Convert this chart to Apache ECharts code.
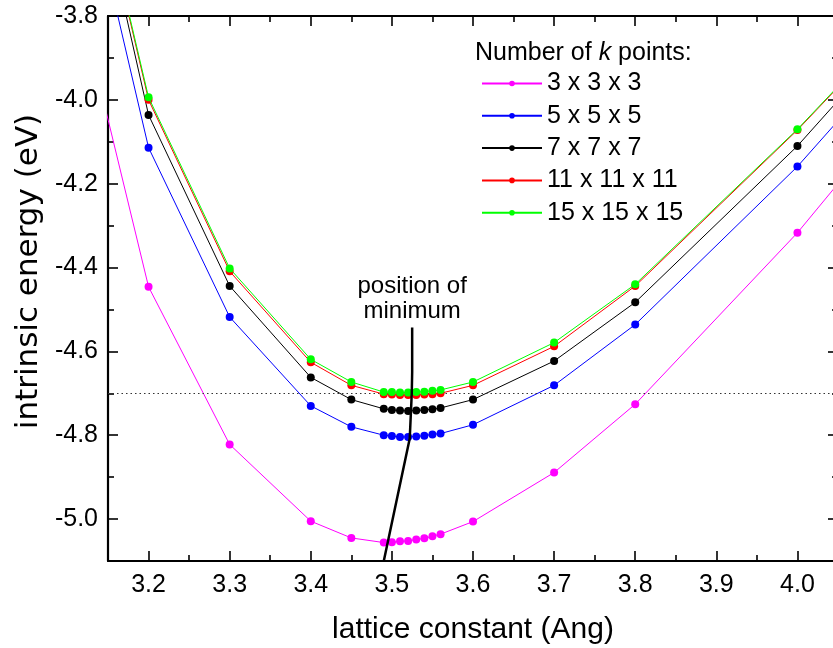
<!DOCTYPE html>
<html>
<head>
<meta charset="utf-8">
<script src="https://cdn.jsdelivr.net/npm/echarts@6/dist/echarts.min.js"></script>
<style>html,body{margin:0;padding:0;background:#fff}#c{width:833px;height:648px}</style>
</head>
<body>
<div id="c"></div>
<script>
// ---- data ----
var latticeX = [3.1, 3.2, 3.3, 3.4, 3.45, 3.49, 3.50, 3.51, 3.52, 3.53, 3.54, 3.55, 3.56, 3.6, 3.7, 3.8, 4.0, 4.1];
var k3  = [-3.647, -4.446, -4.822, -5.005, -5.045, -5.056, -5.055, -5.053, -5.052, -5.049, -5.046, -5.041, -5.036, -5.006, -4.889, -4.726, -4.317, -4.083];
var k5  = [-3.285, -4.114, -4.518, -4.730, -4.780, -4.800, -4.802, -4.804, -4.804, -4.803, -4.801, -4.798, -4.796, -4.775, -4.681, -4.536, -4.159, -3.941];
var k7  = [-3.178, -4.036, -4.444, -4.662, -4.715, -4.737, -4.740, -4.741, -4.742, -4.741, -4.740, -4.738, -4.735, -4.715, -4.623, -4.483, -4.110, -3.894];
var k11 = [-3.172, -4.000, -4.409, -4.626, -4.681, -4.702, -4.703, -4.704, -4.704, -4.704, -4.703, -4.702, -4.700, -4.681, -4.588, -4.444, -4.072, -3.868];
var k15 = [-3.167, -3.994, -4.402, -4.619, -4.673, -4.697, -4.697, -4.698, -4.698, -4.697, -4.696, -4.694, -4.692, -4.673, -4.579, -4.440, -4.070, -3.866];
var seriesNames = ['3 x 3 x 3', '5 x 5 x 5', '7 x 7 x 7', '11 x 11 x 11', '15 x 15 x 15'];
var minLineX = [3.490, 3.522, 3.5245, 3.525, 3.525];
var minLineY = [-5.10, -4.808, -4.70, -4.65, -4.543];
var refLevel = -4.7;
var xMajor = [3.2, 3.3, 3.4, 3.5, 3.6, 3.7, 3.8, 3.9, 4.0];
var xMinor = [3.25, 3.35, 3.45, 3.55, 3.65, 3.75, 3.85, 3.95];
var yMajor = [-5.0, -4.8, -4.6, -4.4, -4.2, -4.0, -3.8];
var yMinor = [-4.9, -4.7, -4.5, -4.3, -4.1, -3.9];

var FONT = '"Liberation Sans", Arial, Helvetica, sans-serif';
var X_MIN = 3.15, X_MAX = 4.05, Y_MIN = -5.1, Y_MAX = -3.8;

function pairs(xs, ys) { return xs.map(function (x, i) { return [x, ys[i]]; }); }

function axisBase(dim, pos, ticks, len, showLine, labels) {
  var isX = dim === 'x';
  var a = {
    type: 'value', position: pos,
    min: isX ? X_MIN : Y_MIN, max: isX ? X_MAX : Y_MAX,
    splitLine: { show: false },
    axisLine: { show: showLine, onZero: false, lineStyle: { color: '#000', width: 2.2 } },
    axisTick: { show: true, inside: true, length: len, customValues: ticks, lineStyle: { color: '#000', width: 1.6 } },
    axisLabel: { show: false },
    axisPointer: { show: false }
  };
  if (labels) {
    a.axisLabel = {
      show: true, customValues: ticks, color: '#000', fontFamily: FONT, fontSize: 25,
      margin: isX ? 12 : 10,
      formatter: function (v) { return (+v).toFixed(1); }
    };
  }
  return a;
}

var xAxes = [
  axisBase('x', 'bottom', xMajor, 10, true, true),
  axisBase('x', 'bottom', xMinor, 6, false, false),
  axisBase('x', 'top', xMajor, 10, true, false),
  axisBase('x', 'top', xMinor, 6, false, false)
];
xAxes[0].name = 'lattice constant (Ang)';
xAxes[0].nameLocation = 'middle';
xAxes[0].nameGap = 54;
xAxes[0].nameTextStyle = { color: '#000', fontFamily: FONT, fontSize: 30 };

var yAxes = [
  axisBase('y', 'left', yMajor, 10, true, true),
  axisBase('y', 'left', yMinor, 6, false, false),
  axisBase('y', 'right', yMajor, 10, true, false),
  axisBase('y', 'right', yMinor, 6, false, false)
];
yAxes[0].name = 'intrinsic energy (eV)';
yAxes[0].nameLocation = 'middle';
yAxes[0].nameGap = 64;
yAxes[0].nameTextStyle = {
  color: '#000', fontFamily: '"DejaVu Sans", "Liberation Sans", Arial, sans-serif', fontSize: 31,
  padding: [0, 0, 0, 34]
};

var colors = ['#ff00ff', '#0000ff', '#000000', '#ff0000', '#00ff00'];
var dataSets = [k3, k5, k7, k11, k15];

var series = dataSets.map(function (d, i) {
  var s = {
    name: seriesNames[i], type: 'line', xAxisIndex: 0, yAxisIndex: 0,
    data: pairs(latticeX, d),
    symbol: 'circle', symbolSize: 8, showSymbol: true,
    lineStyle: { color: colors[i], width: 1 },
    itemStyle: { color: colors[i] },
    emphasis: { disabled: true }, silent: true, animation: false, clip: true, z: 2 + i
  };
  if (i === 0) {
    s.markLine = {
      silent: true, symbol: 'none', animation: false,
      label: { show: false },
      lineStyle: { color: '#333', type: [1.5, 3], width: 1.2 },
      data: [{ yAxis: refLevel }]
    };
  }
  return s;
});

var minData = pairs(minLineX, minLineY).map(function (p, i, arr) {
  if (i === arr.length - 1) {
    return {
      value: p,
      label: {
        show: true, position: 'top', distance: 4,
        formatter: 'position of\nminimum',
        color: '#000', fontFamily: FONT, fontSize: 24, lineHeight: 25, align: 'center'
      }
    };
  }
  return p;
});
series.push({
  name: 'minimum', type: 'line', xAxisIndex: 0, yAxisIndex: 0,
  data: minData, showSymbol: true, symbol: 'circle', symbolSize: 0,
  lineStyle: { color: '#000', width: 2.5 },
  itemStyle: { color: '#000' },
  emphasis: { disabled: true }, silent: true, animation: false, z: 10
});

var chart = echarts.init(document.getElementById('c'), null, { renderer: 'canvas' });
chart.setOption({
  animation: false,
  backgroundColor: '#fff',
  grid: { left: 108, top: 16, width: 730, height: 545, containLabel: false, outerBoundsMode: 'none' },
  xAxis: xAxes,
  yAxis: yAxes,
  legend: {
    data: seriesNames, orient: 'vertical', left: 476, top: 66,
    itemWidth: 60, itemHeight: 7, itemGap: 7.3,
    textStyle: { color: '#000', fontFamily: FONT, fontSize: 25, lineHeight: 24 },
    selectedMode: false
  },
  graphic: [{
    type: 'text', left: 475, top: 41, silent: true,
    style: {
      text: '{n|Number of }{k|k}{n| points:}',
      rich: {
        n: { fontFamily: FONT, fontSize: 25, fill: '#000' },
        k: { fontFamily: FONT, fontSize: 25, fontStyle: 'italic', fill: '#000' }
      }
    }
  }],
  series: series
});
</script>
</body>
</html>
